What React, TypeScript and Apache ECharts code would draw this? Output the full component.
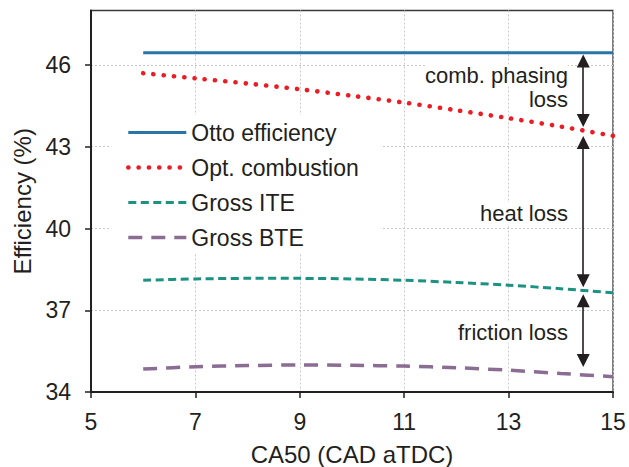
import React, { useEffect, useRef } from "react";
import * as echarts from "echarts";

// CA50 sweep (CAD aTDC)
const ca50 = [6, 7, 8, 9, 10, 11, 12, 13, 14, 15];
// Efficiencies (%)
const ottoEff = [46.45, 46.45, 46.45, 46.45, 46.45, 46.45, 46.45, 46.45, 46.45, 46.45];
const optCombustion = [45.7, 45.51, 45.32, 45.11, 44.87, 44.62, 44.34, 44.05, 43.74, 43.4];
const grossITE = [38.1, 38.15, 38.17, 38.17, 38.15, 38.1, 38.02, 37.92, 37.79, 37.64];
const grossBTE = [34.84, 34.93, 34.97, 34.99, 34.98, 34.95, 34.89, 34.8, 34.68, 34.56];

// Axis ticks
const xTicks = [5, 7, 9, 11, 13, 15];
const yTicks = [34, 37, 40, 43, 46];

// Loss arrows drawn at one CA50 position: [from, to] efficiency pairs
const arrowCA50 = 14.43;
const lossSpans: [number, number][] = [
  [46.15, 43.96],
  [43.16, 38.08],
  [37.35, 35.16],
];

const FONT = "'Liberation Sans', Arial, Helvetica, sans-serif";
const INK = "#231f20";

const pairs = (ys: number[]) => ca50.map((x, i) => [x, ys[i]]);

export default function App() {
  const ref = useRef<HTMLDivElement>(null);

  useEffect(() => {
    if (!ref.current) return;
    const chart = echarts.init(ref.current, null, { renderer: "svg" });

    const annotation = (text: string, y: number) => ({
      type: "text",
      x: 568,
      y,
      z: 10,
      style: {
        text,
        fill: INK,
        font: `22px ${FONT}`,
        align: "right",
        verticalAlign: "middle",
        backgroundColor: "#fff",
      },
    });

    chart.setOption({
      animation: false,
      backgroundColor: "#fff",
      textStyle: { fontFamily: FONT },
      grid: {
        left: 91,
        right: 16,
        top: 10.5,
        bottom: 75,
        outerBoundsMode: "none",
        containLabel: false,
        show: true,
        borderColor: "#3a3a3a",
        borderWidth: 1.3,
        backgroundColor: "transparent",
      },
      legend: {
        orient: "vertical",
        left: 110,
        top: 115,
        padding: [6, 22, 5, 16],
        backgroundColor: "#fff",
        itemWidth: 58,
        itemHeight: 14,
        itemGap: 12,
        itemStyle: { opacity: 0 },
        lineStyle: { width: "inherit" },
        textStyle: { fontSize: 23, color: INK, fontFamily: FONT },
        data: ["Otto efficiency", "Opt. combustion", "Gross ITE", "Gross BTE"],
      },
      xAxis: {
        type: "value",
        min: 5,
        max: 15,
        name: "CA50 (CAD aTDC)",
        nameLocation: "middle",
        nameGap: 50,
        nameTextStyle: { fontSize: 24, color: INK, fontFamily: FONT },
        axisLine: { onZero: false, lineStyle: { color: INK, width: 2 } },
        axisTick: { show: true, length: 6, customValues: xTicks, lineStyle: { color: INK, width: 1.5 } },
        axisLabel: { customValues: xTicks, margin: 18, fontSize: 23, color: INK, fontFamily: FONT },
        splitLine: { show: true, lineStyle: { color: "#c8c8c8", width: 1, type: [2, 2] } },
      },
      yAxis: {
        type: "value",
        min: 34,
        max: 48,
        name: "Efficiency (%)",
        nameLocation: "middle",
        nameGap: 50,
        nameTextStyle: { fontSize: 24, color: INK, fontFamily: FONT },
        axisLine: { show: true, onZero: false, lineStyle: { color: INK, width: 2 } },
        axisTick: { show: true, length: 6, customValues: yTicks, lineStyle: { color: INK, width: 1.5 } },
        axisLabel: { customValues: yTicks, margin: 20, fontSize: 23, color: INK, fontFamily: FONT },
        splitLine: { show: true, lineStyle: { color: "#c8c8c8", width: 1, type: [2, 2] } },
      },
      series: [
        {
          name: "Otto efficiency",
          type: "line",
          data: pairs(ottoEff),
          symbol: "none",
          z: 3,
          lineStyle: { color: "#2a74a8", width: 3 },
          itemStyle: { color: "#2a74a8" },
          markLine: {
            silent: true,
            symbol: ["triangle", "triangle"],
            symbolSize: [13, 13],
            label: { show: false },
            itemStyle: { color: INK, opacity: 1 },
            lineStyle: { color: INK, width: 1.6, type: "solid" },
            data: lossSpans.map(([a, b]) => [
              { coord: [arrowCA50, a] },
              { coord: [arrowCA50, b] },
            ]),
          },
        },
        {
          name: "Opt. combustion",
          type: "line",
          data: pairs(optCombustion),
          symbol: "none",
          smooth: 0.3,
          z: 3,
          lineStyle: { color: "#ec1c24", width: 4.6, type: [0.1, 10.2], cap: "round" },
          itemStyle: { color: "#ec1c24" },
        },
        {
          name: "Gross ITE",
          type: "line",
          data: pairs(grossITE),
          symbol: "none",
          smooth: 0.3,
          z: 3,
          lineStyle: { color: "#1c9283", width: 3, type: [8, 4.5] },
          itemStyle: { color: "#1c9283" },
        },
        {
          name: "Gross BTE",
          type: "line",
          data: pairs(grossBTE),
          symbol: "none",
          smooth: 0.3,
          z: 3,
          lineStyle: { color: "#8b6c92", width: 3.5, type: [14, 9] },
          itemStyle: { color: "#8b6c92" },
        },
      ],
      graphic: [
        annotation("comb. phasing", 75.5),
        annotation("loss", 99.5),
        annotation("heat loss", 213.5),
        annotation("friction loss", 332.5),
      ],
    });

    return () => chart.dispose();
  }, []);

  return (
    <div
      ref={ref}
      style={{ position: "absolute", left: 0, top: 0, width: 629, height: 467 }}
    />
  );
}
